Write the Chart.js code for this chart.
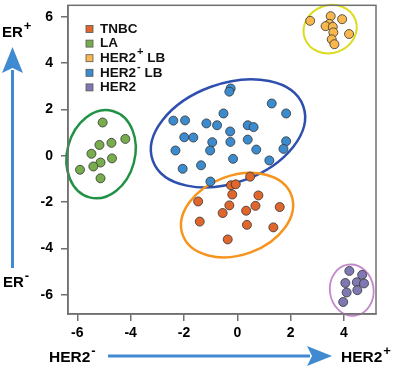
<!DOCTYPE html>
<html>
<head>
<meta charset="utf-8">
<script src="https://cdn.jsdelivr.net/npm/chart.js@4/dist/chart.umd.min.js"></script>
<style>
  body { margin: 0; background: #fff; }
  #wrap { width: 400px; height: 369px; }
</style>
</head>
<body>
<div id="wrap"><canvas id="plot" width="400" height="369"></canvas></div>
<script>
// subtype scores (x = HER2 axis, y = ER axis)
var tnbcX = [0.48, -0.24, -0.06, -0.19, 0.79, -1.47, -0.3, 0.68, 1.59, -0.55, 0.33, -1.41, 0.36, 1.35, -0.36];
var tnbcY = [-0.9, -1.27, -1.23, -1.67, -1.71, -1.97, -2.14, -2.16, -2.21, -2.47, -2.37, -2.84, -2.98, -3.09, -3.61];

var laX = [-5.05, -4.2, -4.72, -5.17, -5.47, -4.7, -5.13, -5.4, -5.9, -5.13];
var laY = [1.44, 0.73, 0.56, 0.47, 0.09, -0.11, -0.29, -0.46, -0.6, -0.97];

var her2posX = [3.5, 3.93, 2.73, 3.45, 3.31, 3.58, 3.6, 4.19, 3.54, 3.64];
var her2posY = [6.03, 5.9, 5.83, 5.7, 5.6, 5.57, 5.33, 5.26, 5.03, 4.82];

var her2negX = [-0.25, -0.3, 1.29, 1.83, -0.52, -2.4, -1.96, -1.16, -0.76, 0.39, 0.61, -0.27, -1.99, -1.65,
                -0.94, -0.26, 0.39, 1.83, 1.73, -2.32, -1.02, 0.71, -0.16, 1.2, -2.05, -1.36, -1.01];
var her2negY = [2.91, 2.77, 2.26, 1.83, 1.83, 1.52, 1.53, 1.4, 1.32, 1.32, 1.24, 1.05, 0.8, 0.79,
                0.59, 0.6, 0.7, 0.63, 0.3, 0.23, 0.23, 0.27, -0.13, -0.2, -0.56, -0.41, -1.11];

var her2X = [4.2, 4.68, 4.05, 4.48, 4.75, 4.1, 4.5, 3.97];
var her2Y = [-4.97, -5.14, -5.49, -5.46, -5.51, -5.9, -5.8, -6.31];

var xTicks = [-6, -4, -2, 0, 2, 4];
var yTicks = [-6, -4, -2, 0, 2, 4, 6];

// legend labels, odd entries are superscripts
var labels = [["TNBC"], ["LA"], ["HER2", "+", " LB"], ["HER2", "-", " LB"], ["HER2"]];

// cluster outlines in data units: centre, half widths, tilt (deg)
var rings = [
  { cx: -0.35, cy: 0.97, rx: 3.0, ry: 2.14, tilt: -20, color: "#2f4fae", width: 2.5 },
  { cx: -0.01, cy: -2.56, rx: 2.17, ry: 1.71, tilt: -20, color: "#f7941d", width: 2.5 },
  { cx: -5.11, cy: 0.07, rx: 1.27, ry: 1.93, tilt: 15, color: "#219245", width: 2.5 },
  { cx: 3.48, cy: 5.47, rx: 1.01, ry: 1.03, tilt: -20, color: "#dcdc1e", width: 2 },
  { cx: 4.29, cy: -5.8, rx: 0.82, ry: 1.11, tilt: -8, color: "#c488cc", width: 1.8 }
];

var fills = ["#e0662c", "#78ad4d", "#f9b84e", "#3b8bce", "#7e78b3"];

function pts(xs, ys) {
  return xs.map(function (v, i) { return { x: v, y: ys[i] }; });
}

var FONT = "'Liberation Sans', Arial, sans-serif";

// draw text made of normal / superscript parts
function supText(ctx, parts, x, y, size) {
  ctx.textBaseline = "middle";
  ctx.textAlign = "left";
  for (var i = 0; i < parts.length; i++) {
    if (i % 2 === 1) {
      var s = Math.round(size * 0.85);
      ctx.font = "bold " + s + "px " + FONT;
      ctx.fillText(parts[i], x + 1, y - size * 0.45);
      x += ctx.measureText(parts[i]).width + 1;
    } else {
      ctx.font = "bold " + size + "px " + FONT;
      ctx.fillText(parts[i], x, y);
      x += ctx.measureText(parts[i]).width;
    }
  }
}

var ringPlugin = {
  id: "rings",
  beforeDatasetsDraw: function (chart) {
    var ctx = chart.ctx, xs = chart.scales.x, ys = chart.scales.y;
    var kx = Math.abs(xs.getPixelForValue(1) - xs.getPixelForValue(0));
    var ky = Math.abs(ys.getPixelForValue(1) - ys.getPixelForValue(0));
    ctx.save();
    rings.forEach(function (r) {
      ctx.beginPath();
      ctx.ellipse(xs.getPixelForValue(r.cx), ys.getPixelForValue(r.cy),
        r.rx * kx, r.ry * ky, r.tilt * Math.PI / 180, 0, 2 * Math.PI);
      ctx.strokeStyle = r.color;
      ctx.lineWidth = r.width;
      ctx.stroke();
    });
    ctx.restore();
  },
  afterDraw: function (chart) {
    var ctx = chart.ctx, a = chart.chartArea;
    ctx.save();
    // box round the plot
    ctx.strokeStyle = "#707070";
    ctx.lineWidth = 1.5;
    ctx.strokeRect(a.left, a.top, a.right - a.left, a.bottom - a.top);

    // legend
    chart.data.datasets.forEach(function (d, i) {
      var y = 29 + i * 14.6;
      ctx.fillStyle = d.backgroundColor;
      ctx.fillRect(86, y - 3.5, 7, 7);
      ctx.strokeStyle = "#555";
      ctx.lineWidth = 0.8;
      ctx.strokeRect(86, y - 3.5, 7, 7);
      ctx.fillStyle = "#111";
      supText(ctx, labels[i], 100, y, 13.5);
    });

    // direction arrows
    var blue = "#3f8ad0";
    ctx.strokeStyle = blue;
    ctx.fillStyle = blue;
    ctx.lineWidth = 3;
    ctx.beginPath();
    ctx.moveTo(12.5, 268);
    ctx.lineTo(12.5, 70);
    ctx.stroke();
    ctx.beginPath();
    ctx.moveTo(12.5, 47);
    ctx.lineTo(23, 73);
    ctx.lineTo(12.5, 68);
    ctx.lineTo(2, 73);
    ctx.closePath();
    ctx.fill();

    ctx.beginPath();
    ctx.moveTo(108, 356);
    ctx.lineTo(310, 356);
    ctx.stroke();
    ctx.beginPath();
    ctx.moveTo(332, 356);
    ctx.lineTo(307, 346);
    ctx.lineTo(312, 356);
    ctx.lineTo(307, 366);
    ctx.closePath();
    ctx.fill();

    ctx.fillStyle = "#000";
    supText(ctx, ["ER", "+"], 2, 33, 15);
    supText(ctx, ["ER", "-"], 3, 283, 15);
    supText(ctx, ["HER2", "-"], 49, 358, 15.5);
    supText(ctx, ["HER2", "+"], 341, 358, 15.5);
    ctx.restore();
  }
};

var tickFont = { family: FONT, size: 14, weight: "bold" };

new Chart(document.getElementById("plot"), {
  type: "scatter",
  data: {
    datasets: [
      { label: "TNBC", data: pts(tnbcX, tnbcY), backgroundColor: fills[0] },
      { label: "LA", data: pts(laX, laY), backgroundColor: fills[1] },
      { label: "HER2+ LB", data: pts(her2posX, her2posY), backgroundColor: fills[2] },
      { label: "HER2- LB", data: pts(her2negX, her2negY), backgroundColor: fills[3] },
      { label: "HER2", data: pts(her2X, her2Y), backgroundColor: fills[4] }
    ]
  },
  options: {
    responsive: false,
    animation: false,
    layout: { padding: { top: 3, right: 24, left: 0, bottom: 0 } },
    elements: {
      point: { radius: 4.5, borderWidth: 0.8, borderColor: "#333" }
    },
    plugins: {
      legend: { display: false },
      tooltip: { enabled: false }
    },
    scales: {
      x: {
        type: "linear",
        min: -6.35,
        max: 5.2,
        afterBuildTicks: function (s) { s.ticks = xTicks.map(function (v) { return { value: v }; }); },
        afterFit: function (s) { s.height = 55; s.paddingLeft = 0; s.paddingRight = 0; },
        grid: { drawOnChartArea: false, drawTicks: true, tickLength: 7, color: "#707070", lineWidth: 1.5 },
        border: { color: "#707070", width: 1.5 },
        ticks: { font: tickFont, color: "#000", padding: 4, maxRotation: 0 }
      },
      y: {
        type: "linear",
        min: -6.83,
        max: 6.5,
        afterBuildTicks: function (s) { s.ticks = yTicks.map(function (v) { return { value: v }; }); },
        afterFit: function (s) { s.width = 68; s.paddingTop = 0; s.paddingBottom = 0; },
        grid: { drawOnChartArea: false, drawTicks: true, tickLength: 7, color: "#707070", lineWidth: 1.5 },
        border: { color: "#707070", width: 1.5 },
        ticks: { font: tickFont, color: "#000", padding: 8 }
      }
    }
  },
  plugins: [ringPlugin]
});
</script>
</body>
</html>
